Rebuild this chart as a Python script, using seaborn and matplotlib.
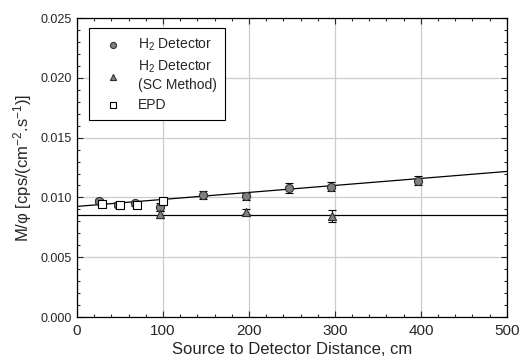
import matplotlib
matplotlib.use("Agg")
import matplotlib.pyplot as plt
import seaborn as sns
import numpy as np
import pandas as pd
from matplotlib.ticker import MultipleLocator

# H2 detector
h2_x = [26, 48, 67, 96, 146, 197, 247, 296, 397]
h2_y = [0.0097, 0.0094, 0.0095, 0.0092, 0.0102, 0.0101, 0.0108, 0.0109, 0.0114]
h2_err = [0.0002, 0.0002, 0.0002, 0.0003, 0.0003, 0.0003, 0.0004, 0.0004, 0.0004]
# H2 detector, SC method
sc_x = [97, 197, 297]
sc_y = [0.0086, 0.0088, 0.00845]
sc_err = [0.0003, 0.0002, 0.0005]
# EPD
epd_x = [29, 50, 70, 100]
epd_y = [0.00945, 0.00935, 0.00935, 0.0097]
epd_err = [0.0002, 0.0002, 0.0002, 0.0002]
# fit lines
fit_intercept = 0.00925
fit_slope = 5.85e-6
sc_level = 0.00856

sns.set_style("ticks")
plt.rcParams['font.family'] = ['Liberation Sans', 'DejaVu Sans']
plt.rcParams['mathtext.fontset'] = 'custom'
plt.rcParams['mathtext.rm'] = 'Liberation Sans'
plt.rcParams['mathtext.it'] = 'Liberation Sans'
plt.rcParams['mathtext.default'] = 'regular'

fig = plt.figure(figsize=(5.22, 3.62), dpi=100)
ax = fig.add_axes([0.1475, 0.1243, 0.8235, 0.8257])

xs = np.array([0, 500])
ax.plot(xs, fit_intercept + fit_slope * xs, color="black", lw=0.9, zorder=2)
ax.plot(xs, [sc_level, sc_level], color="black", lw=0.9, zorder=2)

eb = dict(fmt="none", ecolor="black", elinewidth=0.8, capsize=3, capthick=0.8, zorder=3)
ax.errorbar(h2_x, h2_y, yerr=h2_err, **eb)
ax.errorbar(sc_x, sc_y, yerr=sc_err, **eb)
ax.errorbar(epd_x, epd_y, yerr=epd_err, **eb)

df_h2 = pd.DataFrame({"x": h2_x, "y": h2_y})
df_sc = pd.DataFrame({"x": sc_x, "y": sc_y})
df_epd = pd.DataFrame({"x": epd_x, "y": epd_y})
sns.scatterplot(data=df_h2, x="x", y="y", marker="o", s=34, color="#808080",
                edgecolor="#303030", linewidth=0.8, ax=ax, zorder=4,
                label="H$_2$ Detector")
sns.scatterplot(data=df_sc, x="x", y="y", marker="^", s=34, color="#808080",
                edgecolor="#303030", linewidth=0.8, ax=ax, zorder=4,
                label="H$_2$ Detector\n(SC Method)")
sns.scatterplot(data=df_epd, x="x", y="y", marker="s", s=30, color="white",
                edgecolor="black", linewidth=0.8, ax=ax, zorder=4,
                label="EPD")

ax.set_xlim(0, 500)
ax.set_ylim(0, 0.025)
ax.xaxis.set_major_locator(MultipleLocator(100))
ax.xaxis.set_minor_locator(MultipleLocator(20))
ax.yaxis.set_major_locator(MultipleLocator(0.005))
ax.yaxis.set_minor_locator(MultipleLocator(0.001))
ax.yaxis.set_major_formatter(matplotlib.ticker.FormatStrFormatter("%.3f"))
ax.tick_params(which="both", direction="in", top=True, right=True, width=0.8)
ax.tick_params(which="major", length=4, labelsize=9)
ax.tick_params(which="minor", length=2)
ax.tick_params(axis="x", which="major", labelsize=11, pad=5)
ax.grid(True, which="major", color="#cccccc", lw=0.9)
ax.set_axisbelow(True)
for s in ax.spines.values():
    s.set_linewidth(0.9)
    s.set_color("black")

ax.set_xlabel("Source to Detector Distance, cm", fontsize=12, labelpad=3)
ax.set_ylabel("M/φ [cps/(cm$^{-2}$.s$^{-1}$)]", fontsize=12, labelpad=5)

leg = ax.legend(loc="upper left", bbox_to_anchor=(0.028, 0.967), borderaxespad=0,
                fontsize=10, frameon=True, fancybox=False, edgecolor="black",
                framealpha=1, handletextpad=0.7, borderpad=0.6, labelspacing=0.45,
                handlelength=2.2, markerscale=0.75)
leg.get_frame().set_linewidth(0.8)

fig.savefig("out.png", dpi=100)
